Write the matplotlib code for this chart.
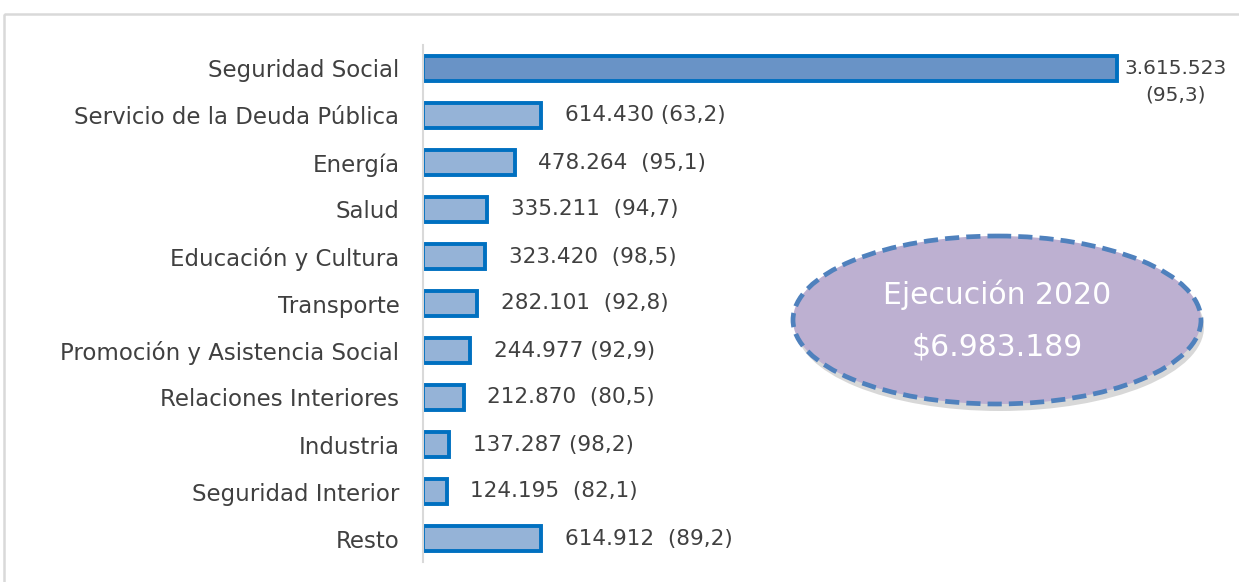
import matplotlib
matplotlib.use('Agg')
import matplotlib.pyplot as plt
from matplotlib.patches import Ellipse, Rectangle

# Data (millones de pesos) and % de ejecución
categorias = ['Seguridad Social', 'Servicio de la Deuda Pública', 'Energía', 'Salud',
              'Educación y Cultura', 'Transporte', 'Promoción y Asistencia Social',
              'Relaciones Interiores', 'Industria', 'Seguridad Interior', 'Resto']
montos = [3615523, 614430, 478264, 335211, 323420, 282101, 244977, 212870, 137287, 124195, 614912]
porcentajes = [95.3, 63.2, 95.1, 94.7, 98.5, 92.8, 92.9, 80.5, 98.2, 82.1, 89.2]
separadores = ['\n', ' ', '  ', '  ', '  ', '  ', ' ', '  ', ' ', '  ', '  ']
total_titulo = 'Ejecución 2020'
total_valor = '$6.983.189'


def fmt_miles(v):
    return f'{v:,}'.replace(',', '.')


def fmt_pct(p):
    return f'({p:.1f})'.replace('.', ',')


W, H = 1239, 582
fig = plt.figure(figsize=(W / 100, H / 100), dpi=100)
fig.patch.set_facecolor('white')

# overlay axes in pixel units for frame and ellipse
ov = fig.add_axes([0, 0, 1, 1], zorder=0)
ov.set_xlim(0, W)
ov.set_ylim(H, 0)
ov.axis('off')
ov.add_patch(Rectangle((4, 14), W + 20, H + 20, fill=False, edgecolor='#D9D9D9', linewidth=1.8))

ax = fig.add_axes([423 / W, 1 - 562 / H, 807 / W, (562 - 45) / H], zorder=1)
ax.patch.set_alpha(0)

y = list(range(len(categorias)))
colores = ['#6993C6'] + ['#95B3D7'] * (len(categorias) - 1)
ax.barh(y, montos, height=0.53, color=colores, edgecolor='#0070C0', linewidth=2.8)

xmax = montos[0] * 807 / 694
ax.set_xlim(0, xmax)
ax.set_ylim(len(categorias) - 0.5, -0.5)
ax.set_yticks(y)
ax.set_yticklabels(categorias, fontsize=16.5, color='#404040')
ax.tick_params(axis='y', length=0, pad=17)
ax.set_xticks([])
for s in ['top', 'right', 'bottom']:
    ax.spines[s].set_visible(False)
ax.spines['left'].set_color('#D9D9D9')
ax.spines['left'].set_linewidth(1.5)

for i, (m, p, sep) in enumerate(zip(montos, porcentajes, separadores)):
    etiqueta = fmt_miles(m) + sep + fmt_pct(p)
    if sep == '\n':
        ax.annotate(etiqueta, (m, i), xytext=(42, 7), textcoords='offset points',
                    ha='center', va='top', fontsize=14.5, color='#404040',
                    multialignment='center', linespacing=1.5, annotation_clip=False)
    else:
        ax.annotate(etiqueta, (m, i), xytext=(17, 0), textcoords='offset points',
                    ha='left', va='center', fontsize=15.5, color='#404040')

# ellipse with shadow
ov.add_patch(Ellipse((1000, 327), 408, 168, facecolor='#7F7F7F', alpha=0.3, edgecolor='none'))
ov.add_patch(Ellipse((997, 320), 408, 168, facecolor='#BDB0D1', edgecolor='#4F81BD',
                     linewidth=3.4, linestyle=(0, (3, 1.5))))
ov.text(997, 295, total_titulo, ha='center', va='center', fontsize=21.5, color='white')
ov.text(997, 347, total_valor, ha='center', va='center', fontsize=21.5, color='white')

fig.savefig('out.png', dpi=100)
